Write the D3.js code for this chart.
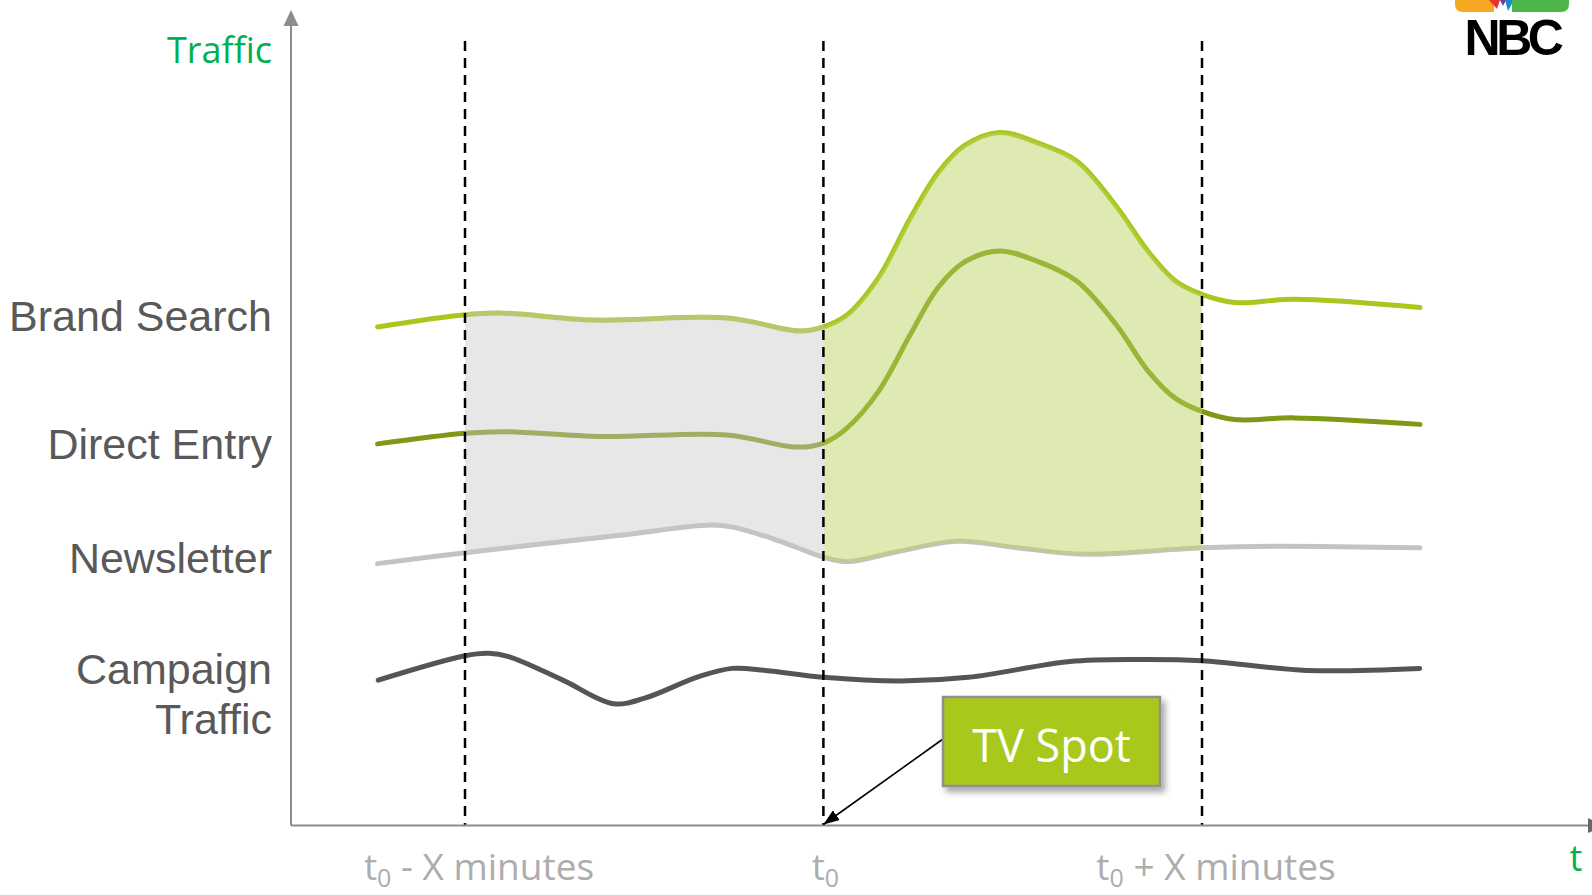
<!DOCTYPE html>
<html><head><meta charset="utf-8">
<script src="https://cdn.jsdelivr.net/npm/d3@7"></script>
<style>html,body{margin:0;padding:0;background:#fff;overflow:hidden}</style>
</head><body>
<svg id="chart" width="1592" height="895"></svg>
<script>
// ---- data ----
const categories = ["Brand Search", "Direct Entry", "Newsletter", "Campaign Traffic"];
const labelLines = [["Brand Search"], ["Direct Entry"], ["Newsletter"], ["Campaign", "Traffic"]];
const labelLevels = [62.75, 47.0, 32.9, 16.25];

// [minutes relative to t0, traffic index]
const brandSearch = [[-12.44,61.4],[-10,62.9],[-8.95,63.1],[-6.43,62.25],[-2.69,62.5],[-0.65,60.9],[0,61.4],
  [0.63,62.9],[1.46,67.5],[2.30,74.85],[3.03,80.4],[3.73,83.75],[4.65,85.35],[5.64,84.1],[6.69,81.85],
  [7.73,76.3],[8.57,70.75],[9.30,67.05],[10,65.4],[10.86,64.4],[12.44,64.8],[15.76,63.8]];
const directEntry = [[-12.44,47.0],[-10,48.3],[-8.95,48.5],[-6.23,47.9],[-2.69,48.1],[-0.74,46.6],[0,47.1],
  [0.63,48.98],[1.46,53.5],[2.30,60.5],[3.03,66.25],[3.73,69.4],[4.65,70.75],[5.64,69.5],[6.69,67.06],
  [7.73,61.7],[8.57,56.0],[9.30,52.6],[10,51.0],[10.86,50.0],[12.44,50.2],[15.76,49.4]];
const newsletter = [[-12.44,32.25],[-10,33.6],[-5.67,35.75],[-3.17,37.0],[-2.52,36.75],[-1.2,35.0],[0,33.06],
  [0.63,32.5],[1.98,33.75],[3.55,35.0],[5.12,34.2],[6.90,33.4],[10,34.2],[11.91,34.4],[15.76,34.2]];
const campaignTraffic = [[-12.42,17.9],[-10,20.9],[-9.34,21.2],[-8.78,20.8],[-7.27,17.9],[-5.86,15.0],[-5.01,15.65],
  [-3.5,18.3],[-2.55,19.35],[-1.61,19.1],[0,18.25],[2.05,17.8],[3.83,18.25],[6.51,20.2],[8.29,20.45],
  [10,20.3],[12.76,19.1],[15.75,19.35]];

const tickValues = [-10, 0, 10];
const tickBase = ["t", "t", "t"];
const tickSub = ["0", "0", "0"];
const tickSuffix = [" - X minutes", "", " + X minutes"];
const yAxisTitle = "Traffic";
const xAxisTitle = "t";
const calloutText = "TV Spot";
const logoText = "NBC";

// ---- scales ----
const svg = d3.select("#chart");
const x = d3.scaleLinear().domain([-10, 0, 10]).range([465, 823.4, 1202]);
const y = d3.scaleLinear().domain([0, 100]).range([825.5, 13.5]);
const axisX0 = 291, axisY0 = y(0);

const defs = svg.append("defs");
defs.append("marker").attr("id", "arrowBlack").attr("viewBox", "0 0 16 12")
  .attr("refX", 16).attr("refY", 6).attr("markerWidth", 16).attr("markerHeight", 12)
  .attr("markerUnits", "userSpaceOnUse").attr("orient", "auto")
  .append("path").attr("d", "M0,0 L16,6 L0,12 Z").attr("fill", "#000");
const f = defs.append("filter").attr("id", "shadow").attr("x", "-20%").attr("y", "-20%").attr("width", "150%").attr("height", "150%");
f.append("feDropShadow").attr("dx", 4).attr("dy", 5).attr("stdDeviation", 3).attr("flood-color", "#000").attr("flood-opacity", 0.35);

const curve = d3.curveCatmullRom.alpha(0.5);
const line = d3.line().x(d => x(d[0])).y(d => y(d[1])).curve(curve);

// clip regions
defs.append("clipPath").attr("id", "belowBrandGray").append("path")
  .attr("d", d3.area().x(d => x(d[0])).y0(axisY0).y1(d => y(d[1]) - 2.5).curve(curve)(brandSearch));
defs.append("clipPath").attr("id", "belowBrandGreen").append("path")
  .attr("d", d3.area().x(d => x(d[0])).y0(axisY0).y1(d => y(d[1])).curve(curve)(brandSearch));
defs.append("clipPath").attr("id", "aboveNews").append("path")
  .attr("d", d3.area().x(d => x(d[0])).y0(0).y1(d => y(d[1]) + 1).curve(curve)(newsletter));

// ---- lines ----
const seriesData = [brandSearch, directEntry, newsletter, campaignTraffic];
const seriesColors = ["#a8c81f", "#7d9916", "#c3c3c3", "#555555"];
svg.append("g").selectAll("path").data(seriesData).join("path")
  .attr("d", line).attr("fill", "none")
  .attr("stroke", (d, i) => seriesColors[i]).attr("stroke-width", 5).attr("stroke-linecap", "round");

// ---- shaded regions ----
svg.append("g").attr("clip-path", "url(#belowBrandGray)")
  .append("g").attr("clip-path", "url(#aboveNews)")
  .append("rect").attr("x", x(-10)).attr("width", x(0) - x(-10)).attr("y", 0).attr("height", axisY0)
  .attr("fill", "#c8c8c8").attr("fill-opacity", 0.44);
svg.append("g").attr("clip-path", "url(#belowBrandGreen)")
  .append("g").attr("clip-path", "url(#aboveNews)")
  .append("rect").attr("x", x(0)).attr("width", x(10) - x(0)).attr("y", 0).attr("height", axisY0)
  .attr("fill", "#bcd35f").attr("fill-opacity", 0.48);

// ---- dashed markers ----
svg.append("g").selectAll("line").data(tickValues).join("line")
  .attr("x1", d => x(d)).attr("x2", d => x(d)).attr("y1", 41).attr("y2", axisY0)
  .attr("stroke", "#000").attr("stroke-width", 2.5).attr("stroke-dasharray", "10 7");

// ---- axes ----
const axisColor = "#8c8c8c";
svg.append("line").attr("x1", axisX0).attr("x2", axisX0).attr("y1", axisY0).attr("y2", 24)
  .attr("stroke", axisColor).attr("stroke-width", 2);
svg.append("path").attr("d", `M${axisX0},10 L${axisX0 + 7.5},26 L${axisX0 - 7.5},26 Z`).attr("fill", axisColor);
svg.append("line").attr("x1", axisX0).attr("x2", 1590).attr("y1", axisY0).attr("y2", axisY0)
  .attr("stroke", axisColor).attr("stroke-width", 2);
svg.append("path").attr("d", `M1588,${axisY0 - 7.5} L1604,${axisY0} L1588,${axisY0 + 7.5} Z`).attr("fill", "#666");

// y-axis title
svg.append("text").attr("x", 272).attr("y", 63).attr("text-anchor", "end")
  .attr("font-family", "'Open Sans'").attr("font-size", 36).attr("fill", "#00b050").text(yAxisTitle);
// x-axis title
svg.append("text").attr("x", 1576).attr("y", 871).attr("text-anchor", "middle")
  .attr("font-family", "'Open Sans'").attr("font-size", 36).attr("fill", "#00b050").text(xAxisTitle);

// category labels
const lab = svg.append("g").attr("font-family", "'Liberation Sans', Arial, sans-serif")
  .attr("font-size", 43).attr("fill", "#595959").attr("text-anchor", "end");
labelLines.forEach((lines, i) => {
  const cy = y(labelLevels[i]);
  const lh = 50;
  lines.forEach((t, j) => {
    lab.append("text").attr("x", 272)
      .attr("y", cy + 15 + (j - (lines.length - 1) / 2) * lh).text(t);
  });
});

// x tick labels
const tl = svg.append("g").attr("font-family", "'Open Sans'").attr("font-size", 37).attr("fill", "#adadad");
tickValues.forEach((v, i) => {
  const t = tl.append("text").attr("x", x(v) + (tickSuffix[i] ? 14 : 2)).attr("y", 880).attr("text-anchor", "middle");
  t.append("tspan").text(tickBase[i]);
  t.append("tspan").attr("font-size", 25).attr("dy", 7).text(tickSub[i]);
  t.append("tspan").attr("dy", -7).text(tickSuffix[i]);
});

// ---- callout ----
svg.append("line").attr("x1", 943).attr("y1", 739).attr("x2", x(0)).attr("y2", axisY0 - 1)
  .attr("stroke", "#000").attr("stroke-width", 1.6).attr("marker-end", "url(#arrowBlack)");
svg.append("rect").attr("x", 943).attr("y", 697).attr("width", 217).attr("height", 89)
  .attr("fill", "#a9c81f").attr("stroke", "#8f8f8f").attr("stroke-width", 2.5).attr("filter", "url(#shadow)");
svg.append("text").attr("x", 1051.5).attr("y", 762).attr("text-anchor", "middle")
  .attr("font-family", "'Open Sans'").attr("font-size", 45).attr("fill", "#fff").text(calloutText);

// ---- logo ----
const logo = svg.append("g");
logo.append("path").attr("d", "M1455,0 L1494,0 L1494,12 L1463,12 Q1455,12 1455,4 Z").attr("fill", "#f7a823");
logo.append("path").attr("d", "M1489,0 L1500,0 L1497,9 Z").attr("fill", "#e8322f");
logo.append("path").attr("d", "M1500,0 L1506,0 L1503,6 Z").attr("fill", "#6e3c8c");
logo.append("path").attr("d", "M1505,0 L1514,0 L1508,11 Z").attr("fill", "#1c8ad1");
logo.append("path").attr("d", "M1512,0 L1569,0 L1569,4 Q1569,12 1561,12 L1512,12 Z").attr("fill", "#4cb748");
logo.append("text").attr("x", 1512).attr("y", 55).attr("text-anchor", "middle")
  .attr("font-family", "'Liberation Sans', Arial").attr("font-weight", "bold").attr("font-size", 50)
  .attr("letter-spacing", -4.5).attr("fill", "#000").text(logoText);
</script>
</body></html>
